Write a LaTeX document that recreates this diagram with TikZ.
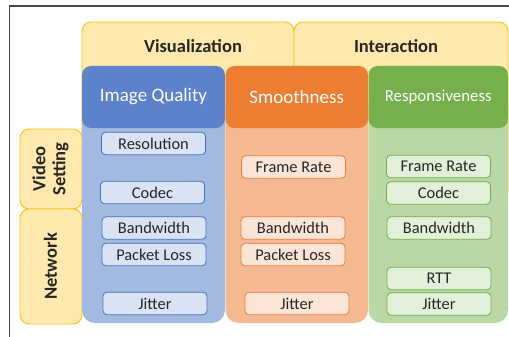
\documentclass[tikz,border=0pt]{standalone}
\usepackage{fontspec}
\setmainfont{Carlito}
\begin{document}
\begin{tikzpicture}[x=1pt,y=-1pt,
  ylw/.style={draw=ygold,fill=yfill,line width=0.9pt,rounded corners=9pt},
  ylab/.style={font=\fontsize{18.5}{19}\selectfont\bfseries,text=tdark},
  head/.style={rounded corners=9pt,text=white,font=\fontsize{19}{20}\selectfont},
  body/.style={rounded corners=13pt},
  ibox/.style={rounded corners=4pt,line width=0.8pt,minimum width=104pt,minimum height=22.5pt,inner sep=0pt,text=tdark,font=\fontsize{16.4}{17}\selectfont},
  bbox/.style={ibox,draw=bdark,fill=bin},
  obox/.style={ibox,draw=odark,fill=oin},
  gbox/.style={ibox,draw=gdark,fill=gin}]
\definecolor{ygold}{HTML}{FFC20E}
\definecolor{yfill}{HTML}{FFE9AE}
\definecolor{tdark}{HTML}{262626}
\definecolor{bhead}{HTML}{5B82CB}
\definecolor{bbody}{HTML}{A2B9E0}
\definecolor{bin}{HTML}{DAE3F3}
\definecolor{bdark}{HTML}{4472C4}
\definecolor{ohead}{HTML}{ED7D31}
\definecolor{obody}{HTML}{F5BA94}
\definecolor{oin}{HTML}{FBE5D6}
\definecolor{odark}{HTML}{ED7D31}
\definecolor{ghead}{HTML}{75B04C}
\definecolor{gbody}{HTML}{B9D8A6}
\definecolor{gin}{HTML}{E2F0D9}
\definecolor{gdark}{HTML}{70AD47}
\useasboundingbox (0,0) rectangle (509,337);
% frame
\draw[line width=1.2pt,color=black!72] (9.5,337) -- (9.5,6) -- (509,6);
% top yellow boxes
\path[ylw] (82,22) rectangle (294,200);
\path[ylw] (294,22) rectangle (508,200);
\node[ylab] (vis) at (193,46.5) {Visualization};
\node[ylab] (inter) at (396,46.5) {Interaction};
% left yellow boxes
\path[ylw] (20,129) rectangle (82,209);
\path[ylw] (20,209) rectangle (82,324);
\node[ylab,rotate=90,align=center,font=\fontsize{18.5}{20}\selectfont\bfseries] (vs) at (50.5,169) {Video\\Setting};
\node[ylab,rotate=90] (net) at (50.5,266.5) {Network};
% bodies
\fill[bbody,body] (82,90) rectangle (225,323);
\fill[obody,body] (225.5,90) rectangle (368,323);
\fill[gbody,body] (368.5,90) rectangle (508,323);
% headers
\node[head,fill=bhead,minimum width=143pt,minimum height=62pt,inner sep=0pt] (iq) at (153.5,97) {Image Quality};
\node[head,fill=ohead,minimum width=142.5pt,minimum height=62pt,inner sep=0pt] (sm) at (296.75,97) {Smoothness};
\node[head,fill=ghead,minimum width=139.5pt,minimum height=62pt,inner sep=0pt,font=\fontsize{16.8}{18}\selectfont] (rs) at (438.25,97) {Responsiveness};
% blue column
\node[bbox] (b1) at (153.5,143.5) {Resolution};
\node[bbox] (b2) at (152.5,192.5) {Codec};
\node[bbox] (b3) at (154,228) {Bandwidth};
\node[bbox] (b4) at (154,254.5) {Packet Loss};
\node[bbox] (b5) at (155,303.5) {Jitter};
% orange column
\node[obox] (o1) at (293.5,167) {Frame Rate};
\node[obox] (o2) at (293,228) {Bandwidth};
\node[obox] (o3) at (293,254.5) {Packet Loss};
\node[obox] (o4) at (297,303.5) {Jitter};
% green column
\node[gbox] (g1) at (438.5,166.5) {Frame Rate};
\node[gbox] (g2) at (438.5,193) {Codec};
\node[gbox] (g3) at (439,228) {Bandwidth};
\node[gbox] (g4) at (439,278.5) {RTT};
\node[gbox] (g5) at (439,304) {Jitter};
\end{tikzpicture}
\end{document}
